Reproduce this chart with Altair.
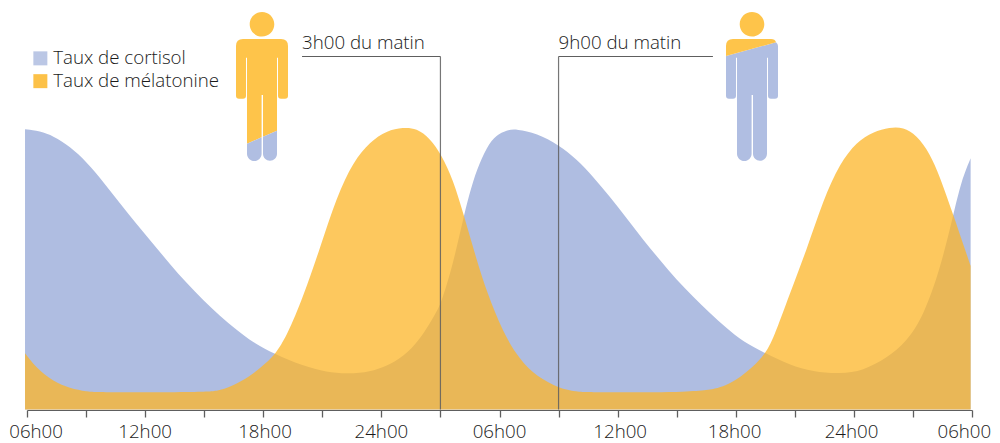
import altair as alt
import pandas as pd

FONT = "Open Sans"
BLUE = "#afbde1"
ORANGE = "#fcb628"
ICON_ORANGE = "#fec44a"
ICON_BLUE = "#b0bee2"
GREY = "#5e5e5e"
TEXT = "#1a1a1a"

cortisol_h = [-0.10, 0.66, 1.34, 2.18, 3.03, 3.88, 4.72, 5.57, 6.41, 7.26, 8.11, 8.95, 9.80, 10.65, 11.49,
              12.60, 14.03, 15.22, 16.32, 17.42, 18.27, 19.11, 19.96, 20.81, 21.06, 21.65, 22.16, 22.50,
              22.84, 23.35, 23.85, 24.36, 24.87, 25.89, 27.02, 27.92, 28.76, 29.61, 30.46, 31.30, 32.15,
              33.00, 33.84, 34.69, 35.54, 36.38, 37.51, 38.75, 39.93, 41.29, 42.47, 43.66, 44.68, 45.52,
              46.37, 47.05, 47.47, 47.93]
cortisol_v = [280.2, 278.5, 273.5, 263.0, 247.5, 227.5, 206.2, 185.5, 165.5, 145.5, 126.2, 109.5, 93.5, 79.5, 66.8,
              55.2, 43.5, 37.2, 35.5, 37.8, 43.5, 52.8, 69.5, 97.8, 107.8, 146.2, 191.2, 217.8,
              239.5, 262.8, 274.5, 279.5, 280.5, 276.2, 264.5, 250.2, 232.8, 212.8, 191.2, 169.5, 149.5,
              129.5, 112.8, 96.2, 81.2, 67.8, 56.2, 44.5, 37.8, 35.5, 38.8, 51.2, 67.8, 92.8,
              139.5, 194.5, 229.5, 251.2]

melatonin_h = [-0.10, 0.49, 1.34, 2.18, 3.03, 3.71, 9.12, 9.80, 10.65, 11.49, 12.17, 12.60, 13.19, 14.03, 14.88,
               15.73, 16.57, 17.42, 18.27, 19.11, 19.79, 20.47, 21.06, 21.65, 22.16, 22.84, 23.35, 24.19,
               25.04, 25.89, 27.02, 27.92, 28.43, 34.01, 35.20, 36.04, 36.89, 37.51, 37.90, 38.75, 39.60,
               40.44, 41.29, 42.14, 42.98, 43.83, 44.51, 45.18, 45.86, 46.37, 47.05, 47.93]
melatonin_v = [56.2, 41.2, 27.8, 21.2, 17.8, 17.2, 17.2, 18.8, 25.5, 35.5, 47.0, 55.2, 73.0, 112.8, 161.2,
               212.8, 247.8, 267.8, 278.8, 282.2, 281.2, 271.2, 254.5, 229.5, 196.2, 149.5, 117.8, 76.2,
               49.5, 32.8, 21.2, 17.8, 17.2, 17.2, 21.2, 29.5, 42.8, 56.2, 70.0, 116.2, 159.5,
               209.5, 246.2, 267.8, 277.8, 282.2, 282.2, 274.5, 256.2, 232.8, 194.5, 143.5]

series_names = ["Taux de cortisol", "Taux de mélatonine"]

tick_hours = list(range(0, 49, 3))
label_hours = [0.46, 6.0, 12.09, 18.0, 24.0, 30.13, 35.94, 41.88, 47.61]
label_texts = ["06h00", "12h00", "18h00", "24h00", "06h00", "12h00", "18h00", "24h00", "06h00"]

note_texts = ["3h00 du matin", "9h00 du matin"]
note_text_hours = [13.97, 27.0]
note_level = 361
drop_hours = [21.0, 27.0]
lead_start = [13.97, 27.0]
lead_end = [21.0, 34.84]
lead_level = 353

# pictogram outlines, in pixels around the head centre
HEAD = "M-12.3,0A12.3,12.3 0 1 1 12.3,0A12.3,12.3 0 1 1 -12.3,0Z"
A_ORANGE = (HEAD + "M-19,14.7L19,14.7Q26,14.7 26,21.7L26,71.4Q26,74.4 23,74.4L19,74.4Q16,74.4 16,71.4L16,33.4L15,33.4"
            "L15,106.4L1,112.47L1,70.7L-0.4,70.7L-0.4,113.07L-15,119.4L-15,33.4L-16,33.4L-16,71.4Q-16,74.4 -19,74.4"
            "L-23,74.4Q-26,74.4 -26,71.4L-26,21.7Q-26,14.7 -19,14.7Z")
A_BLUE = ("M15,106.4L15,129.4A7,7 0 0 1 1,129.4L1,112.47Z"
          "M-0.4,113.07L-0.4,129.4A7.3,7.3 0 0 1 -15,129.4L-15,119.4Z")
B_ORANGE = HEAD + "M-26,31.7L-26,21.7Q-26,14.7 -19,14.7L19,14.7Q23,14.7 24,18Z"
B_BLUE = ("M-26,31.7L24,18Q26,19.5 26,21.7L26,71.4Q26,74.4 23,74.4L19,74.4Q16,74.4 16,71.4L16,33.4L15,33.4"
          "L15,129.4A7,7 0 0 1 1,129.4L1,70.7L-0.4,70.7L-0.4,129.4A7.3,7.3 0 0 1 -15,129.4L-15,33.4L-16,33.4"
          "L-16,71.4Q-16,74.4 -19,74.4L-23,74.4Q-26,74.4 -26,71.4Z")

x_scale = alt.Scale(domain=[0, 48], nice=False, zero=False)
y_scale = alt.Scale(domain=[-0.5, 401.5], nice=False, zero=False)
x_axis = alt.Axis(values=tick_hours, labels=False, title=None, grid=False, tickSize=7,
                  tickColor=GREY, domainColor=GREY, tickWidth=1.3, domainWidth=1.2)
X = alt.X("hour:Q", scale=x_scale, axis=x_axis)
Y = alt.Y("level:Q", scale=y_scale, axis=None)
color = alt.Color(
    "series:N",
    scale=alt.Scale(domain=series_names, range=[BLUE, ORANGE]),
    sort=series_names,
    legend=alt.Legend(title=None, orient="none", legendX=4, legendY=41, padding=0, symbolType="square",
                      symbolSize=196, symbolOpacity=0.85, symbolStrokeWidth=0, labelFont=FONT, labelFontSize=18.7,
                      labelFontWeight=300, labelColor=TEXT, labelOffset=3.5, rowPadding=2.8, labelLimit=300),
)

cort_df = pd.DataFrame({"hour": cortisol_h, "level": cortisol_v, "series": series_names[0]})
mela_df = pd.DataFrame({"hour": melatonin_h, "level": melatonin_v, "series": series_names[1]})

cort = alt.Chart(cort_df).mark_area(interpolate="basis", opacity=1).encode(x=X, y=Y, color=color)
mela = alt.Chart(mela_df).mark_area(interpolate="basis", opacity=0.75).encode(x=X, y=Y, color=color)

drops = alt.Chart(pd.DataFrame({"hour": drop_hours, "level": [lead_level] * 2, "base": [0, 0]})).mark_rule(
    color=GREY, strokeWidth=1.2, opacity=0.85
).encode(x=X, y=Y, y2="base:Q")
leads = alt.Chart(pd.DataFrame({"hour": lead_start, "end": lead_end, "level": [lead_level] * 2})).mark_rule(
    color=GREY, strokeWidth=1.2
).encode(x=X, x2="end:Q", y=Y)
notes = alt.Chart(pd.DataFrame({"hour": note_text_hours, "level": [note_level] * 2, "t": note_texts})).mark_text(
    font=FONT, fontSize=18.7, fontWeight=300, color=TEXT, align="left", baseline="alphabetic"
).encode(x=X, y=Y, text="t:N")
tick_labels = alt.Chart(pd.DataFrame({"hour": label_hours, "t": label_texts})).mark_text(
    font=FONT, fontSize=18.7, fontWeight=300, color=TEXT, align="center", baseline="alphabetic"
).encode(x=X, y=alt.value(430), text="t:N")


def icon(path, fill, px, py):
    return alt.Chart(pd.DataFrame({"n": [0]})).mark_point(
        shape=path, filled=True, fill=fill, stroke=None, size=4, opacity=1
    ).encode(x=alt.value(px), y=alt.value(py))


icons = [
    icon(A_ORANGE, ICON_ORANGE, 235, 16.3),
    icon(A_BLUE, ICON_BLUE, 235, 16.3),
    icon(B_BLUE, ICON_BLUE, 725, 16.3),
    icon(B_ORANGE, ICON_ORANGE, 725, 16.3),
]

chart = alt.layer(cort, mela, drops, leads, notes, tick_labels, *icons).properties(
    width=945, height=402,
    padding={"left": 19, "top": 0, "right": 20, "bottom": 33},
    autosize=alt.AutoSizeParams(type="none"),
    background="white",
).configure_view(stroke=None)

chart.save("out.html", embed_options={"renderer": "svg", "actions": False})
